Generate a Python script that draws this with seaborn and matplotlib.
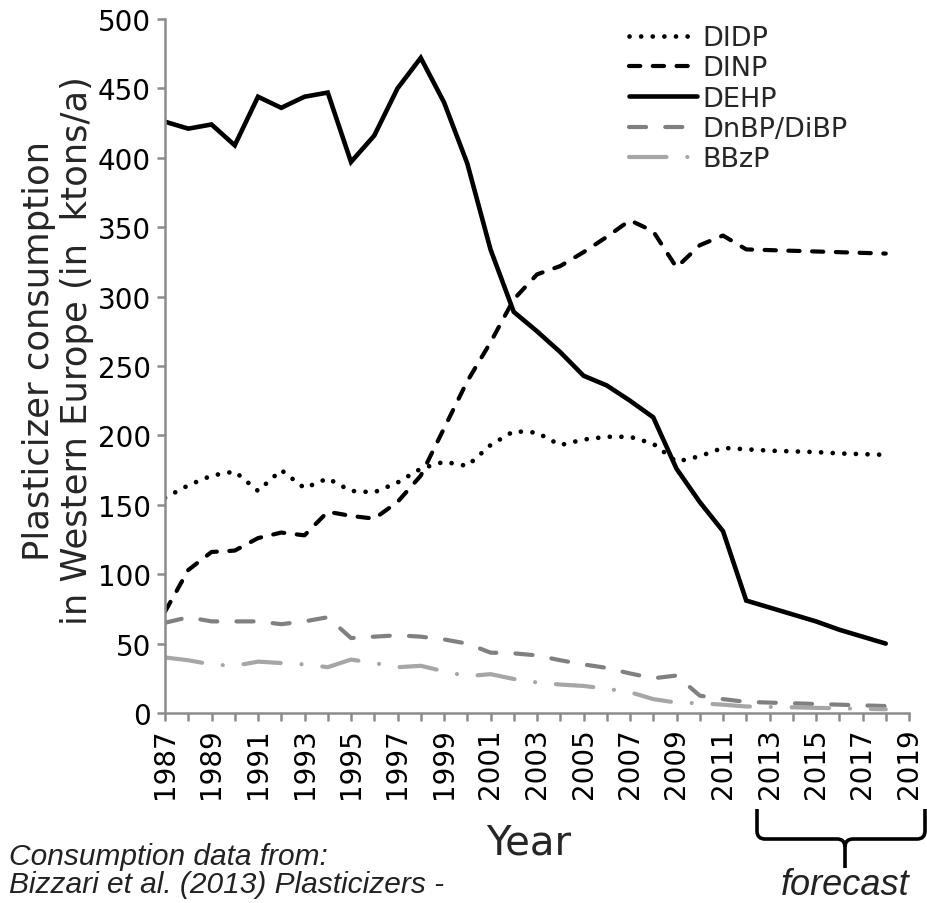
import numpy as np
import pandas as pd
import matplotlib
matplotlib.use("Agg")
import matplotlib.pyplot as plt
from matplotlib.path import Path
from matplotlib.patches import PathPatch
from matplotlib.ticker import MultipleLocator, FuncFormatter
import seaborn as sns

# Plasticizer consumption in Western Europe (ktons/a), 1987-2018 (2013+ forecast)
years = list(range(1987, 2019))

didp = [155, 164, 171, 174, 160, 175, 162, 169, 160, 159, 166, 176, 181, 178, 193, 203,
        202, 193, 197, 199, 199, 194, 181, 185, 191, 190, 189, 188.5, 188, 187, 186.5, 186]
dinp = [73, 103, 116, 117, 126, 130, 128, 145, 142, 140, 152, 171, 205, 239, 267, 298,
        316, 322, 332, 343, 355, 347, 321, 337, 344, 334, 333.5, 333, 332.5, 332, 331.5, 331]
dehp = [426, 421, 424, 409, 444, 436, 444, 447, 397, 416, 450, 472, 440, 396, 334, 289,
        275, 260, 243, 236, 225, 213, 176, 152, 131, 81, 76, 71, 66, 60, 55, 50]
dnbp = [65, 69, 66, 66, 66, 64, 66, 69, 54, 55, 56, 55, 53, 50, 43.5, 43,
        41.5, 38, 35, 32.5, 28.5, 25, 27, 12.5, 10, 8, 7.5, 7, 6.5, 6, 5.5, 5]
bbzp = [40, 38, 35, 34, 37, 36, 35, 33, 38.5, 36, 33, 34, 30, 26.5, 28, 24.5,
        22, 20.5, 19.5, 17.5, 15, 10, 7.5, 7, 6, 4.7, 4.4, 4.1, 3.7, 3.4, 3.0, 2.7]

series_names = ["DIDP", "DINP", "DEHP", "DnBP/DiBP", "BBzP"]
series_values = [didp, dinp, dehp, dnbp, bbzp]
series_colors = ["black", "black", "black", "#808080", "#a6a6a6"]
series_widths = [3.4, 3.0, 3.3, 3.0, 3.0]
series_styles = [(0, (0.01, 2.45)), (0, (2.7, 3.0)), "-", (0, (4.1, 4.6)),
                 (0, (9.0, 5.0, 0.01, 5.0))]

df = pd.DataFrame({"Year": years})
for name, vals in zip(series_names, series_values):
    df[name] = vals

sns.set_style("white")
plt.rcParams["font.family"] = ["DejaVu Sans"]

W, H = 927, 904
fig = plt.figure(figsize=(W / 100, H / 100), dpi=100)
ax = fig.add_axes([165 / W, 1 - 714 / H, 744 / W, 694 / H])

for name, col, lw, ls in zip(series_names, series_colors, series_widths, series_styles):
    sns.lineplot(data=df, x="Year", y=name, ax=ax, color=col, linewidth=lw,
                 linestyle=ls, label=name, solid_capstyle="round",
                 dash_capstyle="round", solid_joinstyle="miter")

ax.set_xlim(1987, 2019)
ax.set_ylim(0, 500)

# Axes styling
for side in ["top", "right"]:
    ax.spines[side].set_visible(False)
for side in ["left", "bottom"]:
    ax.spines[side].set_color("#8c8c8c")
    ax.spines[side].set_linewidth(1.8)

ax.yaxis.set_major_locator(MultipleLocator(50))
ax.xaxis.set_major_locator(MultipleLocator(1))
ax.xaxis.set_major_formatter(FuncFormatter(lambda v, p: f"{int(round(v))}" if int(round(v)) % 2 == 1 else ""))
ax.tick_params(axis="both", which="major", direction="out", length=6, width=1.8,
               color="#8c8c8c", labelsize=20, pad=4, labelcolor="black")
ax.tick_params(axis="x", labelrotation=90)
ax.tick_params(left=True, bottom=True)

ax.set_xlabel("")
ax.set_ylabel("Plasticizer consumption\nin Western Europe (in  ktons/a)",
              fontsize=25.5, linespacing=1.15, ha="center")
ax.yaxis.set_label_coords(-0.095, 0.523)

fig.text(529 / W, 1 - 855 / H, "Year", fontsize=29, ha="center", va="baseline")

leg = ax.legend(loc="upper left", bbox_to_anchor=(629 / W, 1 - 26 / H),
                bbox_transform=fig.transFigure, frameon=False, fontsize=19.5,
                labelspacing=0.16, handlelength=2.5, handletextpad=0.2,
                borderpad=0, borderaxespad=0)

# Source note
fig.text(9 / W, 1 - 865 / H, "Consumption data from:", fontsize=21.5,
         family="Liberation Sans", style="italic", color="#222222", va="baseline")
fig.text(9 / W, 1 - 893 / H, "Bizzari et al. (2013) Plasticizers -", fontsize=21.5,
         family="Liberation Sans", style="italic", color="#222222", va="baseline")

# Brace over the forecast years
def fp(x, y):
    return (x / W, 1 - y / H)

xl, xr, xc = 757, 925, 845
y0, y1, y2 = 810, 840, 869
r = 8
verts = [fp(xl, y0), fp(xl, y1 - r), fp(xl, y1), fp(xl + r, y1),
         fp(xc - r, y1), fp(xc, y1), fp(xc, y1 + r), fp(xc, y2)]
codes = [Path.MOVETO, Path.LINETO, Path.CURVE3, Path.CURVE3,
         Path.LINETO, Path.CURVE3, Path.CURVE3, Path.LINETO]
verts2 = [fp(xr, y0), fp(xr, y1 - r), fp(xr, y1), fp(xr - r, y1),
          fp(xc + r, y1), fp(xc, y1), fp(xc, y1 + r)]
codes2 = [Path.MOVETO, Path.LINETO, Path.CURVE3, Path.CURVE3,
          Path.LINETO, Path.CURVE3, Path.CURVE3]
for v, c in [(verts, codes), (verts2, codes2)]:
    fig.patches.append(PathPatch(Path(v, c), transform=fig.transFigure,
                                 facecolor="none", edgecolor="black", lw=2.6,
                                 capstyle="butt", joinstyle="round"))

fig.text(845 / W, 1 - 895 / H, "forecast", fontsize=26, family="Liberation Sans",
         style="italic", color="#222222", ha="center", va="baseline")

fig.savefig("out.png", dpi=100)
